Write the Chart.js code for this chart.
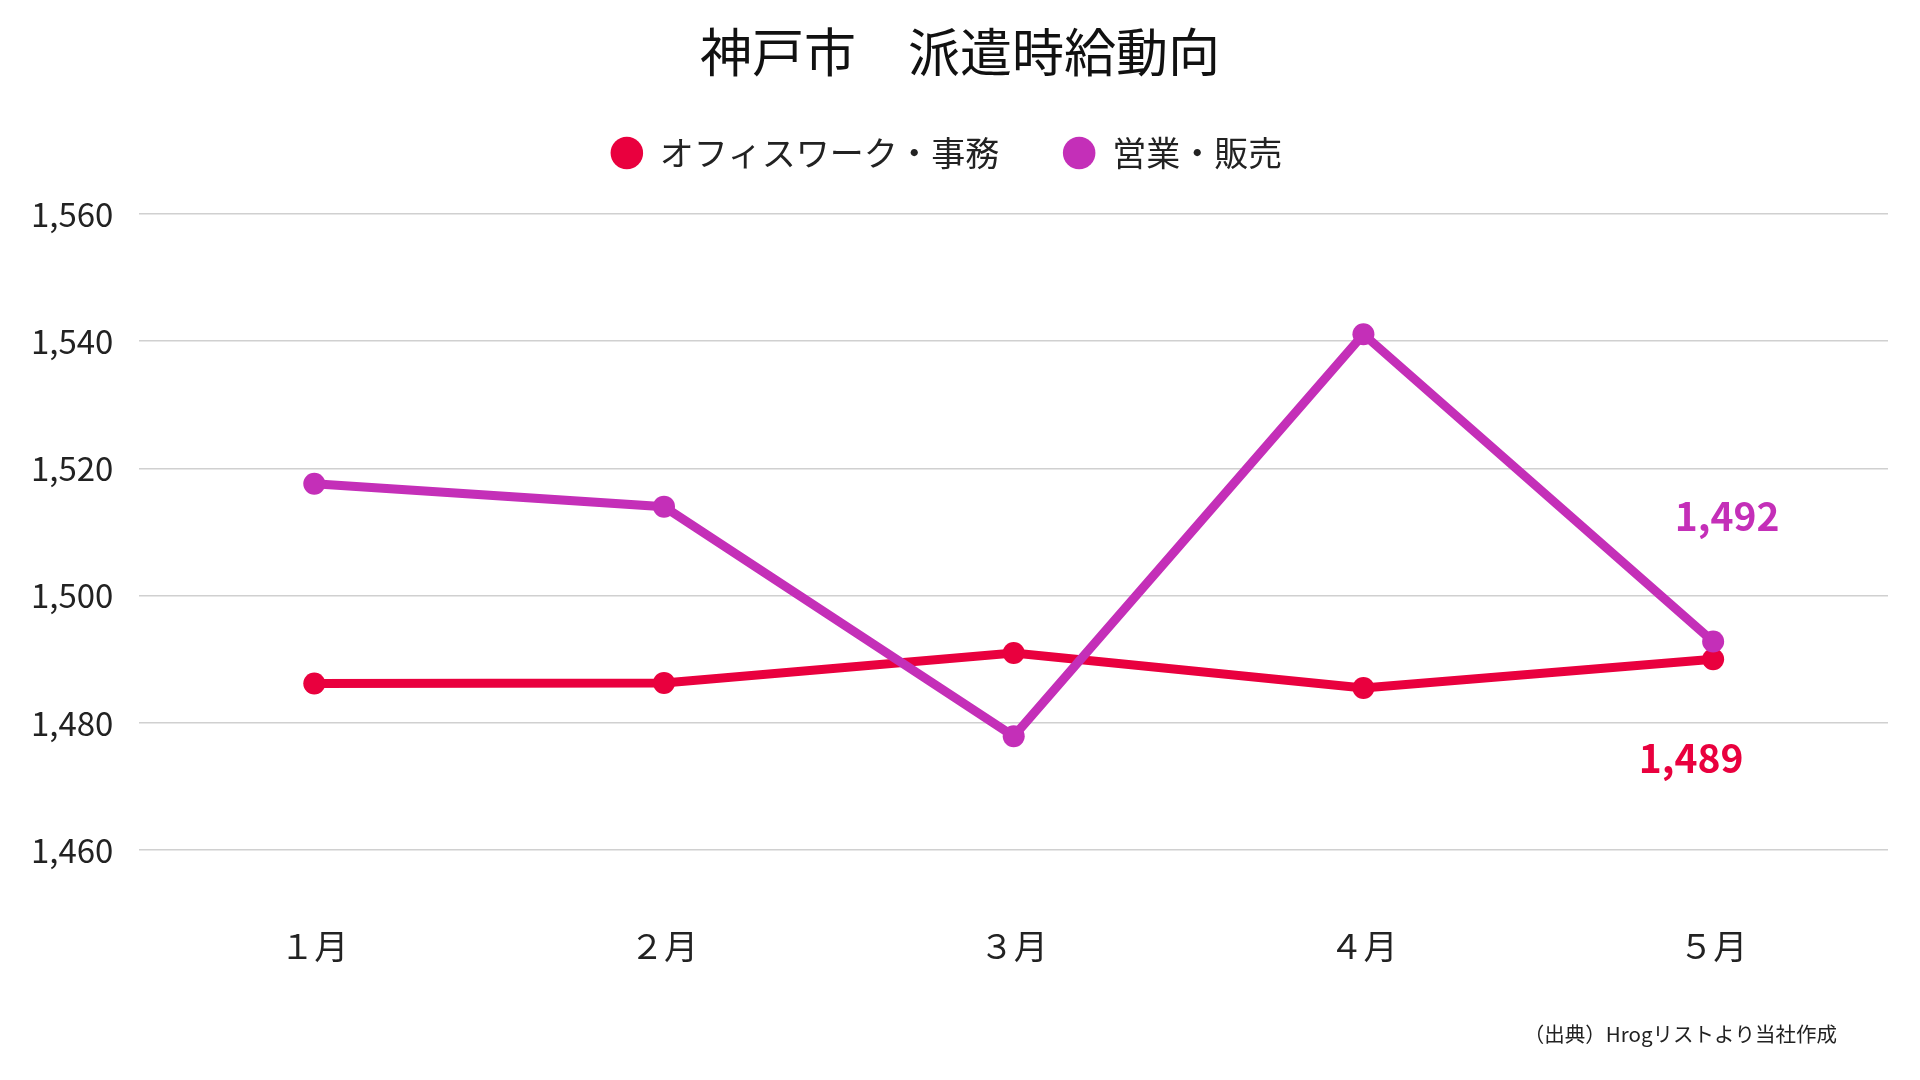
<!DOCTYPE html>
<html lang="ja">
<head>
<meta charset="utf-8">
<title>神戸市 派遣時給動向</title>
<script src="https://cdn.jsdelivr.net/npm/chart.js@4.4.1/dist/chart.umd.min.js"></script>
<style>
  html, body { margin: 0; padding: 0; background: #fff; }
  #wrap { width: 1920px; height: 1080px; position: relative; }
</style>
</head>
<body>
<div id="wrap"><canvas id="wageChart"></canvas></div>
<script>
// --- Data ---
const months = ['１月', '２月', '３月', '４月', '５月'];
const officeWages = [1486.2, 1486.3, 1491.0, 1485.5, 1490.0];
const salesWages = [1517.6, 1514.0, 1477.9, 1541.1, 1492.8];
const seriesNames = ['オフィスワーク・事務', '営業・販売'];
const endLabels = ['1,489', '1,492'];
const yTicks = { min: 1460, max: 1560, step: 20 };
const titleText = '神戸市　派遣時給動向';
const sourceText = '（出典）Hrogリストより当社作成';

const FONT = '"Noto Sans CJK JP", "Noto Sans", sans-serif';
const COLORS = { office: '#E9003E', sales: '#C42FB8' };

// adds a gap between the legend and the plot area
const legendGap = {
    id: 'legendGap',
    beforeLayout(chart) {
        const lg = chart.legend;
        if (lg && !lg._gapPatched) {
            const fit = lg.fit;
            lg.fit = function () { fit.call(this); this.height += 34; };
            lg._gapPatched = true;
        }
    }
};

// title (centred on the page), last-point value labels, source note
const extraText = {
    id: 'extraText',
    afterDraw(chart) {
        const ctx = chart.ctx;
        const offsets = [{ dx: -22, dy: 99 }, { dx: 14, dy: -125 }];
        ctx.save();
        ctx.textAlign = 'center';
        ctx.textBaseline = 'middle';

        ctx.font = `52px ${FONT}`;
        ctx.fillStyle = '#111';
        ctx.fillText(titleText, 960, 52);

        ctx.font = `bold 39px ${FONT}`;
        chart.data.datasets.forEach((ds, i) => {
            const meta = chart.getDatasetMeta(i);
            const pt = meta.data[meta.data.length - 1];
            ctx.fillStyle = ds.borderColor;
            ctx.fillText(endLabels[i], pt.x + offsets[i].dx, pt.y + offsets[i].dy);
        });

        ctx.font = `20.5px ${FONT}`;
        ctx.fillStyle = '#222';
        ctx.textAlign = 'right';
        ctx.fillText(sourceText, 1837, 1034);
        ctx.restore();
    }
};

const chart = new Chart(document.getElementById('wageChart'), {
    type: 'line',
    data: {
        labels: months,
        datasets: [
            {
                label: seriesNames[0],
                data: officeWages,
                borderColor: COLORS.office,
                backgroundColor: COLORS.office,
                pointBackgroundColor: COLORS.office,
                order: 2
            },
            {
                label: seriesNames[1],
                data: salesWages,
                borderColor: COLORS.sales,
                backgroundColor: COLORS.sales,
                pointBackgroundColor: COLORS.sales,
                order: 1
            }
        ]
    },
    options: {
        responsive: true,
        maintainAspectRatio: false,
        animation: false,
        locale: 'en-US',
        layout: { padding: { top: 72, left: 5, right: 32, bottom: 47 } },
        elements: {
            line: { borderWidth: 9, tension: 0, fill: false },
            point: { radius: 11, hoverRadius: 11, borderWidth: 0, pointStyle: 'circle' }
        },
        plugins: {
            title: { display: false },
            legend: {
                display: true,
                position: 'top',
                labels: {
                    usePointStyle: true,
                    pointStyle: 'circle',
                    boxWidth: 32,
                    boxHeight: 23,
                    padding: 64,
                    color: '#222',
                    font: { family: FONT, size: 34 },
                    sort: (a, b) => a.datasetIndex - b.datasetIndex
                }
            },
            tooltip: { enabled: false }
        },
        scales: {
            x: {
                offset: true,
                grid: { display: false },
                border: { display: false },
                ticks: {
                    color: '#222',
                    padding: 67,
                    font: { family: FONT, size: 34, lineHeight: 1.2 }
                }
            },
            y: {
                min: yTicks.min,
                max: yTicks.max,
                grid: { color: '#d0d0d0', lineWidth: 1.5, drawTicks: false },
                border: { display: false },
                ticks: {
                    stepSize: yTicks.step,
                    color: '#222',
                    padding: 26,
                    font: { family: FONT, size: 33 }
                }
            }
        }
    },
    plugins: [legendGap, extraText]
});
</script>
</body>
</html>
